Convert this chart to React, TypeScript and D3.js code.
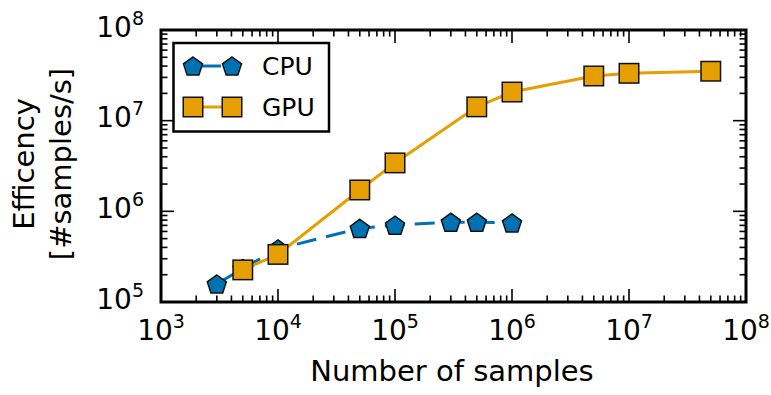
import React from "react";
import * as d3 from "d3";

const cpuSamples = [3e3, 5e3, 1e4, 5e4, 1e5, 3e5, 5e5, 1e6];
const cpuRate = [1.58e5, 2.35e5, 3.85e5, 6.5e5, 7.05e5, 7.6e5, 7.6e5, 7.45e5];
const gpuSamples = [5e3, 1e4, 5e4, 1e5, 5e5, 1e6, 5e6, 1e7, 5e7];
const gpuRate = [2.26e5, 3.35e5, 1.72e6, 3.42e6, 1.42e7, 2.07e7, 3.11e7, 3.33e7, 3.51e7];
const xExponents = [3, 4, 5, 6, 7, 8];
const yExponents = [5, 6, 7, 8];
const seriesNames = ["CPU", "GPU"];

const W = 771;
const H = 395;
const M = { left: 161, right: 746, top: 30, bottom: 302 };
const FONT = "'DejaVu Sans', sans-serif";
const BLUE = "#0072B2";
const ORANGE = "#E69F00";

function pentagon(cx: number, cy: number, r: number) {
  const pts = d3.range(5).map((k) => {
    const a = ((-90 + 72 * k) * Math.PI) / 180;
    return [cx + r * Math.cos(a), cy + r * Math.sin(a)];
  });
  return "M" + pts.map((p) => p.join(",")).join("L") + "Z";
}

function minorValues(lo: number, hi: number) {
  const out: number[] = [];
  for (let e = lo; e < hi; e++) {
    for (let m = 2; m <= 9; m++) out.push(m * Math.pow(10, e));
  }
  return out;
}

export default function App() {
  const x = d3.scaleLog().domain([1e3, 1e8]).range([M.left, M.right]);
  const y = d3.scaleLog().domain([1e5, 1e8]).range([M.bottom, M.top]);

  const line = d3
    .line<[number, number]>()
    .x((d) => x(d[0]))
    .y((d) => y(d[1]));

  const cpuPts = cpuSamples.map((s, i) => [s, cpuRate[i]] as [number, number]);
  const gpuPts = gpuSamples.map((s, i) => [s, gpuRate[i]] as [number, number]);

  const majorLen = 13;
  const minorLen = 6.5;
  const xMinor = minorValues(3, 8);
  const yMinor = minorValues(5, 8);

  const sq = 19.5;
  const pr = 10;

  return (
    <svg
      width={W}
      height={H}
      style={{ position: "absolute", left: 0, top: 0, background: "#fff" }}
      fontFamily={FONT}
    >
      <rect x={0} y={0} width={W} height={H} fill="#fff" />

      {/* ticks on all four sides, pointing inward */}
      <g stroke="#000" strokeWidth={1.6}>
        {xExponents.map((e) => {
          const px = x(Math.pow(10, e));
          return (
            <g key={"xm" + e}>
              <line x1={px} x2={px} y1={M.bottom} y2={M.bottom - majorLen} />
              <line x1={px} x2={px} y1={M.top} y2={M.top + majorLen} />
            </g>
          );
        })}
        {xMinor.map((v, i) => {
          const px = x(v);
          return (
            <g key={"xn" + i}>
              <line x1={px} x2={px} y1={M.bottom} y2={M.bottom - minorLen} />
              <line x1={px} x2={px} y1={M.top} y2={M.top + minorLen} />
            </g>
          );
        })}
        {yExponents.map((e) => {
          const py = y(Math.pow(10, e));
          return (
            <g key={"ym" + e}>
              <line x1={M.left} x2={M.left + majorLen} y1={py} y2={py} />
              <line x1={M.right} x2={M.right - majorLen} y1={py} y2={py} />
            </g>
          );
        })}
        {yMinor.map((v, i) => {
          const py = y(v);
          return (
            <g key={"yn" + i}>
              <line x1={M.left} x2={M.left + minorLen} y1={py} y2={py} />
              <line x1={M.right} x2={M.right - minorLen} y1={py} y2={py} />
            </g>
          );
        })}
      </g>

      {/* CPU series */}
      <path
        d={line(cpuPts) || ""}
        fill="none"
        stroke={BLUE}
        strokeWidth={3}
        strokeDasharray="20,10"
      />
      {cpuPts.map((p, i) => (
        <path
          key={"cp" + i}
          d={pentagon(x(p[0]), y(p[1]) + 1, pr)}
          fill={BLUE}
          stroke="#111"
          strokeWidth={1.5}
        />
      ))}

      {/* GPU series */}
      <path d={line(gpuPts) || ""} fill="none" stroke={ORANGE} strokeWidth={3} />
      {gpuPts.map((p, i) => (
        <rect
          key={"gp" + i}
          x={x(p[0]) - sq / 2}
          y={y(p[1]) - sq / 2}
          width={sq}
          height={sq}
          fill={ORANGE}
          stroke="#111"
          strokeWidth={1.5}
        />
      ))}

      {/* frame */}
      <rect
        x={M.left}
        y={M.top}
        width={M.right - M.left}
        height={M.bottom - M.top}
        fill="none"
        stroke="#000"
        strokeWidth={3}
      />

      {/* x tick labels */}
      {xExponents.map((e) => (
        <text
          key={"xl" + e}
          x={x(Math.pow(10, e))}
          y={340}
          textAnchor="middle"
          fontSize={28}
          fill="#000"
        >
          <tspan>10</tspan>
          <tspan dy={-12} fontSize={19}>
            {e}
          </tspan>
        </text>
      ))}

      {/* y tick labels */}
      {yExponents.map((e) => (
        <text
          key={"yl" + e}
          x={144}
          y={y(Math.pow(10, e)) + 6.5}
          textAnchor="end"
          fontSize={28}
          fill="#000"
        >
          <tspan>10</tspan>
          <tspan dy={-12} fontSize={19}>
            {e}
          </tspan>
        </text>
      ))}

      {/* axis labels */}
      <text x={452} y={381} textAnchor="middle" fontSize={29} fill="#000">
        Number of samples
      </text>
      <g transform="translate(0,164) rotate(-90)">
        <text x={0} y={34} textAnchor="middle" fontSize={29} fill="#000">
          Efficency
        </text>
        <text x={0} y={71} textAnchor="middle" fontSize={29} fill="#000">
          [#samples/s]
        </text>
      </g>

      {/* legend */}
      <g>
        <rect x={173.5} y={43} width={155.5} height={88.5} fill="#fff" stroke="#000" strokeWidth={2.5} />
        <line x1={193} x2={232} y1={66} y2={66} stroke={BLUE} strokeWidth={3} strokeDasharray="20,10" strokeDashoffset={-8} />
        <path d={pentagon(193, 67, pr)} fill={BLUE} stroke="#111" strokeWidth={1.5} />
        <path d={pentagon(232, 67, pr)} fill={BLUE} stroke="#111" strokeWidth={1.5} />
        <text x={262} y={75} fontSize={25} fill="#000">
          {seriesNames[0]}
        </text>
        <line x1={193} x2={232} y1={107} y2={107} stroke={ORANGE} strokeWidth={3} />
        <rect x={193 - sq / 2} y={107 - sq / 2} width={sq} height={sq} fill={ORANGE} stroke="#111" strokeWidth={1.5} />
        <rect x={232 - sq / 2} y={107 - sq / 2} width={sq} height={sq} fill={ORANGE} stroke="#111" strokeWidth={1.5} />
        <text x={262} y={116} fontSize={25} fill="#000">
          {seriesNames[1]}
        </text>
      </g>
    </svg>
  );
}
